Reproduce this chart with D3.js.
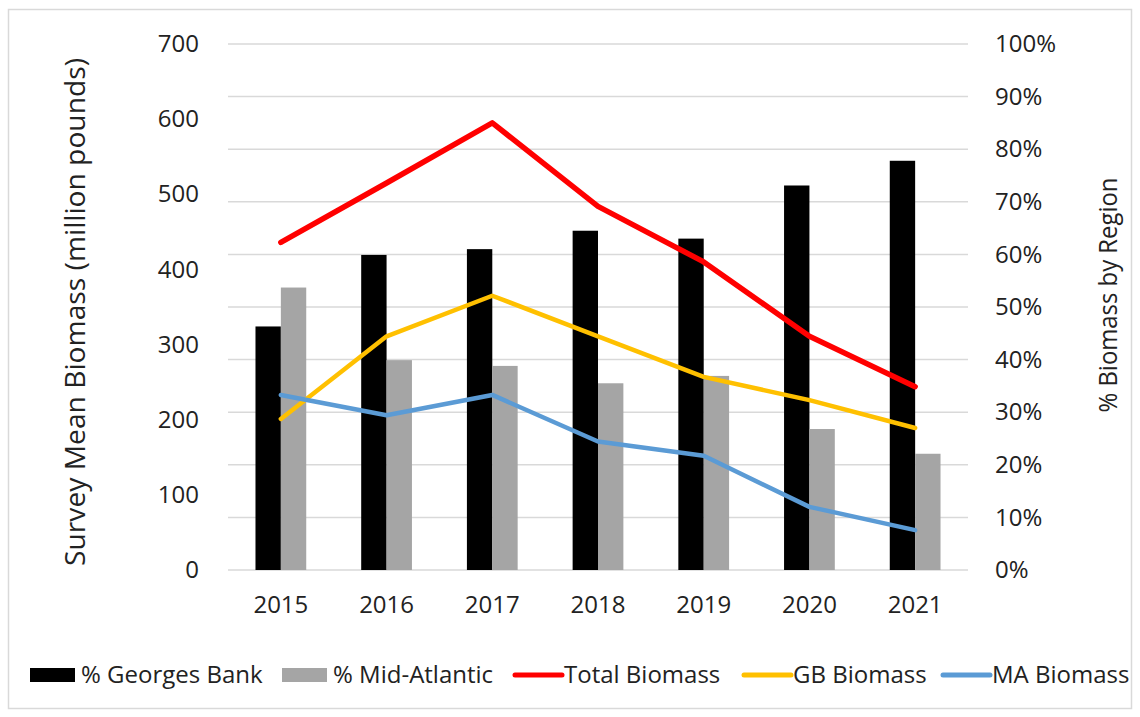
<!DOCTYPE html>
<html>
<head>
<meta charset="utf-8">
<title>Survey Mean Biomass</title>
<script src="https://cdn.jsdelivr.net/npm/d3@7"></script>
<style>
  body { margin: 0; background: #fff; }
  svg text { font-family: "Open Sans", sans-serif; fill: #222; }
</style>
</head>
<body>
<div id="chart"></div>
<script>
var years     = ["2015", "2016", "2017", "2018", "2019", "2020", "2021"];
var pctGB     = [46.3, 59.9, 61.0, 64.5, 63.0, 73.1, 77.8];
var pctMA     = [53.7, 39.9, 38.8, 35.5, 36.9, 26.8, 22.1];
var totalBio  = [436, 515, 595, 484, 410, 311, 244];
var gbBio     = [201, 311, 365, 311, 257, 226, 189];
var maBio     = [233, 206, 233, 171, 152, 84, 53];
var leftTicks  = [0, 100, 200, 300, 400, 500, 600, 700];
var rightTicks = [0, 10, 20, 30, 40, 50, 60, 70, 80, 90, 100];

var width = 1140, height = 717;
var plotL = 228, plotR = 968, plotT = 44, plotB = 570;

var svg = d3.select("#chart").append("svg")
  .attr("width", width).attr("height", height);

// outer frame
svg.append("rect")
  .attr("x", 8.5).attr("y", 9.5).attr("width", 1123).attr("height", 699)
  .attr("fill", "none").attr("stroke", "#d9d9d9").attr("stroke-width", 1.5);

var x = d3.scaleBand().domain(years).range([plotL, plotR])
  .paddingInner(0.52).paddingOuter(0.26);
var x1 = d3.scaleBand().domain(["gb", "ma"]).range([0, x.bandwidth()]);
var yL = d3.scaleLinear().domain([0, 700]).range([plotB, plotT]);
var yR = d3.scaleLinear().domain([0, 100]).range([plotB, plotT]);

// gridlines (from right axis)
svg.append("g").selectAll("line").data(rightTicks).join("line")
  .attr("x1", plotL).attr("x2", plotR)
  .attr("y1", function(d) { return yR(d); })
  .attr("y2", function(d) { return yR(d); })
  .attr("stroke", "#d9d9d9").attr("stroke-width", 1.5);

// bars
var bars = svg.append("g");
bars.selectAll("rect.gb").data(years).join("rect").attr("class", "gb")
  .attr("x", function(d) { return x(d) + x1("gb"); })
  .attr("width", x1.bandwidth())
  .attr("y", function(d, i) { return yR(pctGB[i]); })
  .attr("height", function(d, i) { return yR(0) - yR(pctGB[i]); })
  .attr("fill", "#000");
bars.selectAll("rect.ma").data(years).join("rect").attr("class", "ma")
  .attr("x", function(d) { return x(d) + x1("ma"); })
  .attr("width", x1.bandwidth())
  .attr("y", function(d, i) { return yR(pctMA[i]); })
  .attr("height", function(d, i) { return yR(0) - yR(pctMA[i]); })
  .attr("fill", "#a5a5a5");

// lines
var line = d3.line()
  .x(function(d, i) { return x(years[i]) + x.bandwidth() / 2; })
  .y(function(d) { return yL(d); });

var series = [
  { name: "Total Biomass", values: totalBio, color: "#ff0000", w: 5.5 },
  { name: "GB Biomass",    values: gbBio,    color: "#ffc000", w: 4.5 },
  { name: "MA Biomass",    values: maBio,    color: "#5b9bd5", w: 4.5 }
];
series.forEach(function(s) {
  svg.append("path").datum(s.values)
    .attr("d", line)
    .attr("fill", "none")
    .attr("stroke", s.color)
    .attr("stroke-width", s.w)
    .attr("stroke-linecap", "round")
    .attr("stroke-linejoin", "round");
});

// left axis labels
var leftAxis = d3.axisLeft(yL).tickValues(leftTicks).tickSize(0).tickPadding(0);
var gL = svg.append("g").attr("transform", "translate(199,0)").call(leftAxis);
gL.select(".domain").remove();
gL.selectAll("text").style("font-size", "24px").style("font-family", "Open Sans").attr("fill", "#222");

// right axis labels
var rightAxis = d3.axisRight(yR).tickValues(rightTicks).tickSize(0).tickPadding(0)
  .tickFormat(function(d) { return d + "%"; });
var gR = svg.append("g").attr("transform", "translate(995,0)").call(rightAxis);
gR.select(".domain").remove();
gR.selectAll("text").style("font-size", "24px").style("font-family", "Open Sans").attr("fill", "#222");

// bottom axis labels
var bottomAxis = d3.axisBottom(x).tickSize(0).tickPadding(0);
var gB = svg.append("g").attr("transform", "translate(0,596)").call(bottomAxis);
gB.select(".domain").remove();
gB.selectAll("text").style("font-size", "24px").style("font-family", "Open Sans").attr("fill", "#222");

// axis titles
svg.append("text")
  .attr("transform", "translate(85,312) rotate(-90)")
  .attr("text-anchor", "middle")
  .attr("textLength", 508)
  .attr("lengthAdjust", "spacingAndGlyphs")
  .style("font-size", "27px")
  .text("Survey Mean Biomass (million pounds)");
svg.append("text")
  .attr("transform", "translate(1117,295) rotate(-90)")
  .attr("text-anchor", "middle")
  .attr("textLength", 235)
  .attr("lengthAdjust", "spacingAndGlyphs")
  .style("font-size", "25px")
  .text("% Biomass by Region");

// legend
var legend = [
  { name: "% Georges Bank", type: "bar",  color: "#000",    x: 30 },
  { name: "% Mid-Atlantic", type: "bar",  color: "#a5a5a5", x: 282 },
  { name: "Total Biomass",  type: "line", color: "#ff0000", x: 513 },
  { name: "GB Biomass",     type: "line", color: "#ffc000", x: 742 },
  { name: "MA Biomass",     type: "line", color: "#5b9bd5", x: 941 }
];
var lg = svg.append("g");
legend.forEach(function(d) {
  if (d.type === "bar") {
    lg.append("rect").attr("x", d.x).attr("y", 668).attr("width", 45).attr("height", 14)
      .attr("fill", d.color);
  } else {
    lg.append("line").attr("x1", d.x + 2).attr("x2", d.x + 49).attr("y1", 675).attr("y2", 675)
      .attr("stroke", d.color).attr("stroke-width", 5).attr("stroke-linecap", "round");
  }
  lg.append("text").attr("x", d.x + 51).attr("y", 683)
    .style("font-size", "24px")
    .text(d.name);
});
</script>
</body>
</html>
